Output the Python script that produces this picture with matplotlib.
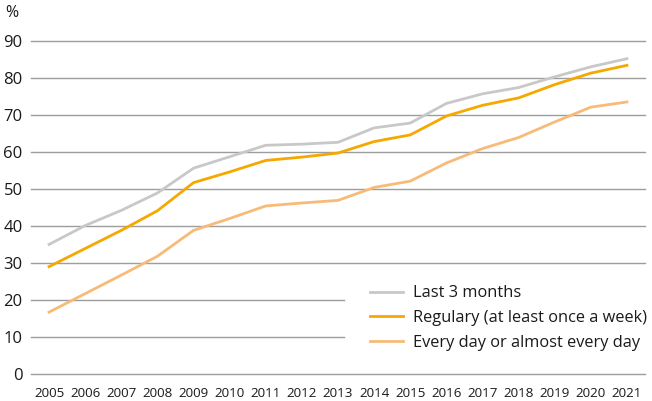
import matplotlib
matplotlib.use("Agg")
import matplotlib.pyplot as plt

years = list(range(2005, 2022))
last3 = [35.1, 40.2, 44.3, 49.0, 55.7, 58.8, 61.9, 62.2, 62.7, 66.6, 67.9, 73.2, 75.8, 77.5, 80.4, 83.1, 85.3]
regular = [29.1, 34.0, 38.9, 44.2, 51.8, 54.7, 57.8, 58.7, 59.8, 62.9, 64.7, 69.8, 72.7, 74.7, 78.3, 81.4, 83.5]
everyday = [16.8, 21.8, 26.8, 31.9, 38.9, 42.1, 45.5, 46.3, 47.0, 50.5, 52.2, 57.1, 61.0, 64.0, 68.2, 72.2, 73.6]
labels = ["Last 3 months", "Regulary (at least once a week)", "Every day or almost every day"]
yticks = [0, 10, 20, 30, 40, 50, 60, 70, 80, 90]

plt.rcParams['font.family'] = ['Open Sans', 'DejaVu Sans']

W, H = 652, 401
fig = plt.figure(figsize=(W/100, H/100), dpi=100)
ax = fig.add_axes([31/W, 1 - 374.3/H, (645-31)/W, 92*3.7/H])
ax.set_xlim(2004.5, 2021.5)
ax.set_ylim(0, 92)

short = (344-31)/(645-31)
for v in yticks:
    xmax = short if v in (10, 20) else 1.0
    ax.axhline(v, xmin=0, xmax=xmax, color='#9d9d9d', lw=1.0, zorder=1, clip_on=False)

ax.plot(years, last3, color='#c8c8c8', lw=2.0, label=labels[0], zorder=3)
ax.plot(years, regular, color='#f5a800', lw=2.0, label=labels[1], zorder=3)
ax.plot(years, everyday, color='#f7bb78', lw=2.0, label=labels[2], zorder=3)

ax.set_yticks(yticks)
ax.set_yticklabels([str(v) for v in yticks], fontsize=12, color='#1a1a1a')
ax.set_xticks(years)
ax.set_xticklabels([str(y) for y in years], fontsize=9.6, color='#1a1a1a')
ax.tick_params(axis='both', length=0)
ax.tick_params(axis='y', pad=6)
ax.tick_params(axis='x', pad=9)
for s in ax.spines.values():
    s.set_visible(False)

fig.text(5/W, 1 - 13/H, '%', fontsize=11.5, va='center', ha='left', color='#1a1a1a')

leg = ax.legend(loc='center left', bbox_to_anchor=(370/W, 1 - 318/H), bbox_transform=fig.transFigure,
                frameon=False, fontsize=11.75, handlelength=2.0, handletextpad=0.65,
                labelspacing=0.53, borderaxespad=0, borderpad=0)
for t in leg.get_texts():
    t.set_color('#1a1a1a')

fig.savefig('out.png', dpi=100)
